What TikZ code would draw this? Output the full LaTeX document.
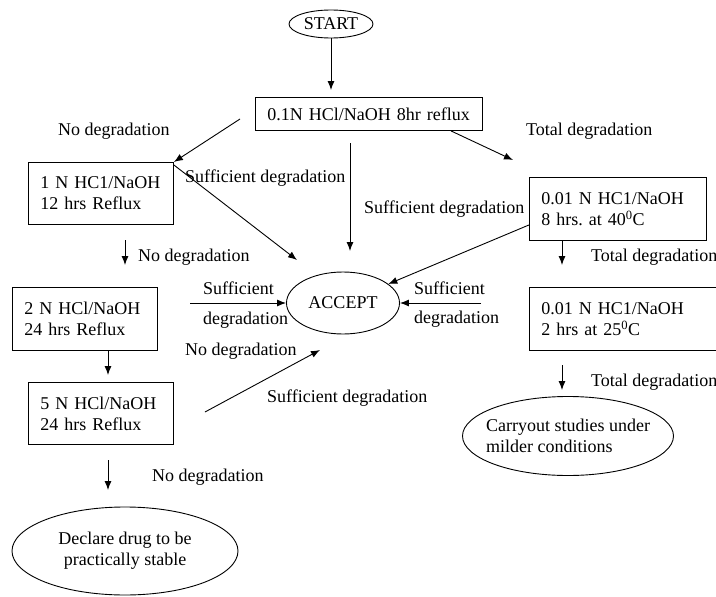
\documentclass[tikz,border=0pt]{standalone}
\usepackage{fontspec}
\setmainfont{Liberation Serif}
\usetikzlibrary{positioning, arrows.meta, shapes.geometric}

\begin{document}
\begin{tikzpicture}[x=1pt, y=-1pt,
    font=\fontsize{18}{21}\selectfont,
    stepbox/.style={draw, line width=0.9pt, inner xsep=12pt, align=left, anchor=north west},
    oval/.style={draw, ellipse, line width=0.9pt, inner sep=0pt},
    note/.style={inner sep=0pt, anchor=west},
    flow/.style={-{Latex[length=9pt, width=7pt]}, line width=0.9pt}]
  \useasboundingbox (0,0) rectangle (716,597);

  % boxes and ovals
  \node[oval, minimum width=84pt, minimum height=28pt] (start) at (331,24) {START};
  \node[stepbox, text width=203pt, minimum height=33pt] (acid) at (255,97) {0.1N HCl/NaOH 8hr reflux};
  \node[stepbox, text width=121pt, minimum height=62pt] (one) at (28,162) {1 N HC1/NaOH\\12 hrs Reflux};
  \node[stepbox, text width=121pt, minimum height=63pt] (two) at (12,287) {2 N HCl/NaOH\\24 hrs Reflux};
  \node[stepbox, text width=121pt, minimum height=62pt] (five) at (28,382) {5 N HCl/NaOH\\24 hrs Reflux};
  \node[stepbox, text width=153pt, minimum height=63pt] (milda) at (529,177) {0.01 N HC1/NaOH\\8 hrs.\ at 40\textsuperscript{0}C};
  \node[stepbox, text width=170pt, minimum height=63pt] (mildb) at (529,287) {0.01 N HC1/NaOH\\2 hrs at 25\textsuperscript{0}C};
  \node[oval, minimum width=113pt, minimum height=62pt] (accept) at (343,303) {ACCEPT};
  \node[oval, minimum width=226pt, minimum height=88pt, align=center] (stable) at (125,551) {Declare drug to be\\practically stable};
  \node[oval, inner xsep=-16pt, minimum width=211pt, minimum height=79pt, align=left] (milder) at (568,436) {Carryout studies under\\milder conditions};

  % free ends of the arrows
  \coordinate (s1) at (331,90);
  \coordinate (n1) at (240,119);
  \coordinate (t1) at (513,160);
  \coordinate (v1) at (350,143);
  \coordinate (v2) at (350,251);
  \coordinate (c1) at (297,260);
  \coordinate (d1) at (125,240);
  \coordinate (d2) at (125,265);
  \coordinate (l1) at (190,303);
  \coordinate (r1) at (481,303);
  \coordinate (e1) at (108,350);
  \coordinate (e2) at (108,375);
  \coordinate (f1) at (205,412);
  \coordinate (f2) at (320,350);
  \coordinate (g1) at (108,460);
  \coordinate (g2) at (108,490);
  \coordinate (h1) at (562,240);
  \coordinate (h2) at (562,265);
  \coordinate (k1) at (562,365);
  \coordinate (k2) at (562,390);

  \draw[flow] (start) -- (s1);
  \draw[flow] (n1) -- (one.north east);
  \draw[flow] ([xshift=82pt]acid.south) -- (t1);
  \draw[flow] (v1) -- (v2);
  \draw[flow] ([yshift=-3pt]one.north east) -- (c1);
  \draw[flow] ([yshift=-16pt]milda.west) -- (accept);
  \draw[flow] (d1) -- (d2);
  \draw[flow] (l1) -- (accept.west);
  \draw[flow] (r1) -- (accept.east);
  \draw[flow] (e1) -- (e2);
  \draw[flow] (f1) -- (f2);
  \draw[flow] (g1) -- (g2);
  \draw[flow] (h1) -- (h2);
  \draw[flow] (k1) -- (k2);

  % labels
  \node[note] (nd1) at (58,131) {No degradation};
  \node[note] (td1) at (526,131) {Total degradation};
  \node[note] (sd1) at (185,178) {Sufficient degradation};
  \node[note] (sd2) at (364,209) {Sufficient degradation};
  \node[note] (nd2) at (138,257) {No degradation};
  \node[note] (td2) at (591,257) {Total degradation};
  \node[note] (sl1) at (203,288) {Sufficient};
  \node[note] (sl2) at (203,320) {degradation};
  \node[note] (sr1) at (414,288) {Sufficient};
  \node[note] (sr2) at (414,319) {degradation};
  \node[note] (nd3) at (185,351) {No degradation};
  \node[note] (sd3) at (267,398) {Sufficient degradation};
  \node[note] (td3) at (591,382) {Total degradation};
  \node[note] (nd4) at (152,477) {No degradation};
\end{tikzpicture}
\end{document}
